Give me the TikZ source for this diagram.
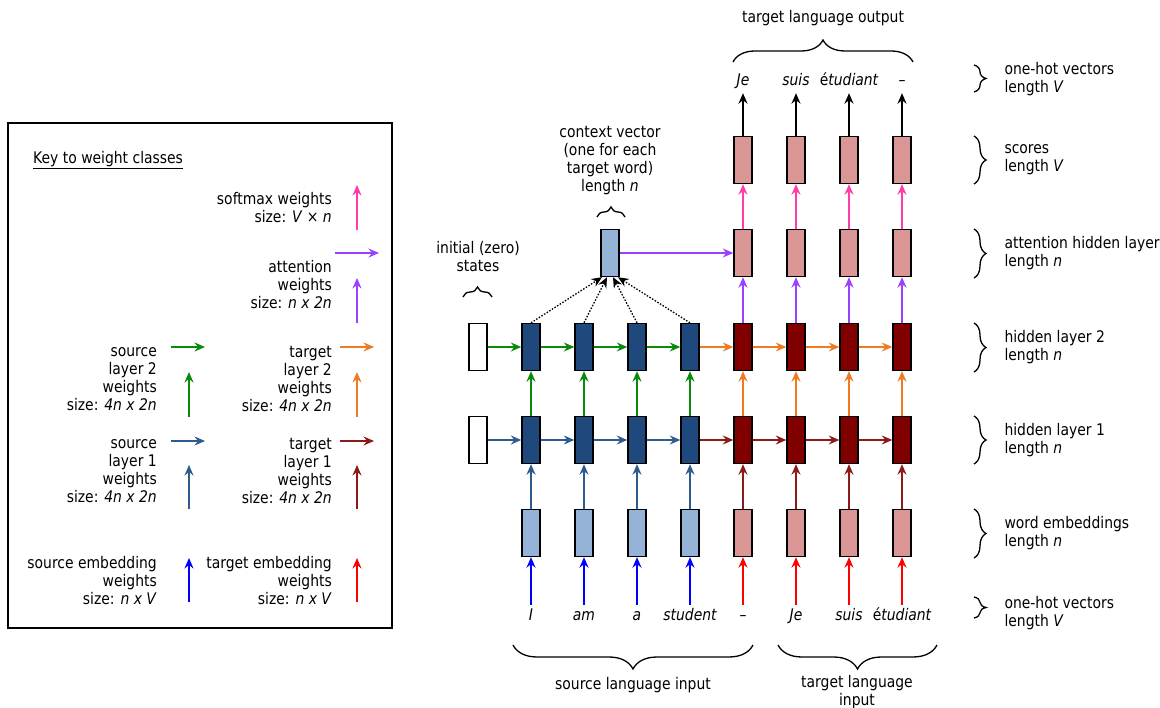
\documentclass[tikz,border=0pt]{standalone}
\usepackage{fontspec}
\setmainfont{DejaVu Sans}[FakeStretch=0.87]
\usetikzlibrary{arrows.meta,decorations.pathreplacing}
\definecolor{srcbox}{HTML}{1F497D}
\definecolor{srclight}{HTML}{95B3D7}
\definecolor{tgtbox}{HTML}{800000}
\definecolor{tgtlight}{HTML}{D99694}
\definecolor{wsrcA}{HTML}{2E5B8E}
\definecolor{wsrcB}{HTML}{0A8A0A}
\definecolor{wtgtA}{HTML}{8B1A1A}
\definecolor{wtgtB}{HTML}{EE7B22}
\definecolor{watt}{HTML}{9B40FF}
\definecolor{wsoft}{HTML}{FF3DAA}
\definecolor{wemb}{HTML}{0000FF}
\definecolor{wtemb}{HTML}{FF0000}

\begin{document}
\begin{tikzpicture}[x=1pt,y=-1pt]
		\tikzstyle{every node}=[font=\fontsize{16pt}{18pt}\selectfont]
		\tikzstyle{cell}=[draw, line width=1.4pt, minimum width=18pt, minimum height=47pt, inner sep=0pt]
		\tikzstyle{srcH}=[cell, fill=srcbox]
		\tikzstyle{srcE}=[cell, fill=srclight]
		\tikzstyle{tgtH}=[cell, fill=tgtbox]
		\tikzstyle{tgtE}=[cell, fill=tgtlight]
		\tikzstyle{zero}=[cell, fill=white]
		\tikzstyle{arr}=[line width=1.5pt, -{Stealth[length=10.5pt,width=9pt,inset=3.5pt]}]
		\tikzstyle{dots}=[arr, black, line width=1.3pt, dash pattern=on 1.5pt off 1.6pt]
		\tikzstyle{word}=[font=\fontsize{16pt}{18pt}\selectfont\itshape, text height=12pt, text depth=4pt, inner sep=3pt, anchor=base]
		\tikzstyle{lbl}=[inner sep=0pt]
		\tikzstyle{brc}=[decorate, line width=1.3pt]
		\useasboundingbox (0,0) rectangle (1160,708);

		% key to weight classes
		\draw [line width=1.5pt] (8,123) rectangle (392,628);
		\node [lbl, anchor=west] (key) at (33,160) {\underline{Key to weight classes}};
		\node [lbl, anchor=east, align=right] (kSoft) at (332,208) {softmax weights\\size: \textit{V} × \textit{n}};
		\node [lbl, anchor=east, align=right] (kAtt) at (332,285) {attention\\weights\\size: \textit{n x 2n}};
		\node [lbl, anchor=east, align=right] (kSrcB) at (157,379) {source\\layer 2\\weights\\size: \textit{4n x 2n}};
		\node [lbl, anchor=east, align=right] (kTgtB) at (332,379) {target\\layer 2\\weights\\size: \textit{4n x 2n}};
		\node [lbl, anchor=east, align=right] (kSrcA) at (157,471) {source\\layer 1\\weights\\size: \textit{4n x 2n}};
		\node [lbl, anchor=east, align=right] (kTgtA) at (332,471) {target\\layer 1\\weights\\size: \textit{4n x 2n}};
		\node [lbl, anchor=east, align=right] (kSrcE) at (157,581) {source embedding\\weights\\size: \textit{n x V}};
		\node [lbl, anchor=east, align=right] (kTgtE) at (332,581) {target embedding\\weights\\size: \textit{n x V}};
		\draw [arr, wsoft] (357,230) -- (357,185);
		\draw [arr, watt] (335,253) -- (379,253);
		\draw [arr, watt] (357,323) -- (357,278);
		\draw [arr, wsrcB] (171,347) -- (205,347);
		\draw [arr, wsrcB] (189,417) -- (189,372);
		\draw [arr, wtgtB] (340,347) -- (374,347);
		\draw [arr, wtgtB] (357,417) -- (357,372);
		\draw [arr, wsrcA] (171,441) -- (205,441);
		\draw [arr, wsrcA] (189,509) -- (189,465);
		\draw [arr, wtgtA] (340,441) -- (374,441);
		\draw [arr, wtgtA] (357,509) -- (357,465);
		\draw [arr, wemb] (189,602) -- (189,558);
		\draw [arr, wtemb] (357,602) -- (357,558);

		% cells
		\node [zero] (zB) at (478,347) {};
		\node [zero] (zA) at (478,440) {};
		\node [srcE] (emb1) at (531,533) {};
		\node [srcE] (emb2) at (584,533) {};
		\node [srcE] (emb3) at (637,533) {};
		\node [srcE] (emb4) at (690,533) {};
		\node [tgtE] (emb5) at (743,533) {};
		\node [tgtE] (emb6) at (796,533) {};
		\node [tgtE] (emb7) at (849,533) {};
		\node [tgtE] (emb8) at (902,533) {};
		\node [srcH] (hidA1) at (531,440) {};
		\node [srcH] (hidA2) at (584,440) {};
		\node [srcH] (hidA3) at (637,440) {};
		\node [srcH] (hidA4) at (690,440) {};
		\node [tgtH] (hidA5) at (743,440) {};
		\node [tgtH] (hidA6) at (796,440) {};
		\node [tgtH] (hidA7) at (849,440) {};
		\node [tgtH] (hidA8) at (902,440) {};
		\node [srcH] (hidB1) at (531,347) {};
		\node [srcH] (hidB2) at (584,347) {};
		\node [srcH] (hidB3) at (637,347) {};
		\node [srcH] (hidB4) at (690,347) {};
		\node [tgtH] (hidB5) at (743,347) {};
		\node [tgtH] (hidB6) at (796,347) {};
		\node [tgtH] (hidB7) at (849,347) {};
		\node [tgtH] (hidB8) at (902,347) {};
		\node [tgtE] (att5) at (743,253) {};
		\node [tgtE] (att6) at (796,253) {};
		\node [tgtE] (att7) at (849,253) {};
		\node [tgtE] (att8) at (902,253) {};
		\node [tgtE] (sco5) at (743,160) {};
		\node [tgtE] (sco6) at (796,160) {};
		\node [tgtE] (sco7) at (849,160) {};
		\node [tgtE] (sco8) at (902,160) {};
		\node [srcE] (ctx) at (610,253) {};

		% words
		\node [word] (in1) at (531,620) {I};
		\node [word] (in2) at (584,620) {am};
		\node [word] (in3) at (637,620) {a};
		\node [word] (in4) at (690,620) {student};
		\node [word] (in5) at (743,620) {--};
		\node [word] (in6) at (796,620) {Je};
		\node [word] (in7) at (849,620) {suis};
		\node [word] (in8) at (902,620) {{\upshape é}tudiant};
		\node [word] (out5) at (743,86) {Je};
		\node [word] (out6) at (796,86) {suis};
		\node [word] (out7) at (849,86) {{\upshape é}tudiant};
		\node [word] (out8) at (902,86) {--};

		% inputs
		\draw [arr, wemb] (in1) -- (emb1);
		\draw [arr, wemb] (in2) -- (emb2);
		\draw [arr, wemb] (in3) -- (emb3);
		\draw [arr, wemb] (in4) -- (emb4);
		\draw [arr, wtemb] (in5) -- (emb5);
		\draw [arr, wtemb] (in6) -- (emb6);
		\draw [arr, wtemb] (in7) -- (emb7);
		\draw [arr, wtemb] (in8) -- (emb8);
		% layer 1
		\draw [arr, wsrcA] (emb1) -- (hidA1);
		\draw [arr, wsrcA] (emb2) -- (hidA2);
		\draw [arr, wsrcA] (emb3) -- (hidA3);
		\draw [arr, wsrcA] (emb4) -- (hidA4);
		\draw [arr, wtgtA] (emb5) -- (hidA5);
		\draw [arr, wtgtA] (emb6) -- (hidA6);
		\draw [arr, wtgtA] (emb7) -- (hidA7);
		\draw [arr, wtgtA] (emb8) -- (hidA8);
		\draw [arr, wsrcA] (zA) -- (hidA1);
		\draw [arr, wsrcA] (hidA1) -- (hidA2);
		\draw [arr, wsrcA] (hidA2) -- (hidA3);
		\draw [arr, wsrcA] (hidA3) -- (hidA4);
		\draw [arr, wtgtA] (hidA4) -- (hidA5);
		\draw [arr, wtgtA] (hidA5) -- (hidA6);
		\draw [arr, wtgtA] (hidA6) -- (hidA7);
		\draw [arr, wtgtA] (hidA7) -- (hidA8);
		% layer 2
		\draw [arr, wsrcB] (hidA1) -- (hidB1);
		\draw [arr, wsrcB] (hidA2) -- (hidB2);
		\draw [arr, wsrcB] (hidA3) -- (hidB3);
		\draw [arr, wsrcB] (hidA4) -- (hidB4);
		\draw [arr, wtgtB] (hidA5) -- (hidB5);
		\draw [arr, wtgtB] (hidA6) -- (hidB6);
		\draw [arr, wtgtB] (hidA7) -- (hidB7);
		\draw [arr, wtgtB] (hidA8) -- (hidB8);
		\draw [arr, wsrcB] (zB) -- (hidB1);
		\draw [arr, wsrcB] (hidB1) -- (hidB2);
		\draw [arr, wsrcB] (hidB2) -- (hidB3);
		\draw [arr, wsrcB] (hidB3) -- (hidB4);
		\draw [arr, wtgtB] (hidB4) -- (hidB5);
		\draw [arr, wtgtB] (hidB5) -- (hidB6);
		\draw [arr, wtgtB] (hidB6) -- (hidB7);
		\draw [arr, wtgtB] (hidB7) -- (hidB8);
		% attention and output
		\draw [dots] (hidB1.north) -- ([xshift=-8pt]ctx.south);
		\draw [dots] (hidB2.north) -- ([xshift=-3pt]ctx.south);
		\draw [dots] (hidB3.north) -- ([xshift=3pt]ctx.south);
		\draw [dots] (hidB4.north) -- ([xshift=8pt]ctx.south);
		\draw [arr, watt] (ctx) -- (att5);
		\draw [arr, watt] (hidB5) -- (att5);
		\draw [arr, watt] (hidB6) -- (att6);
		\draw [arr, watt] (hidB7) -- (att7);
		\draw [arr, watt] (hidB8) -- (att8);
		\draw [arr, wsoft] (att5) -- (sco5);
		\draw [arr, wsoft] (att6) -- (sco6);
		\draw [arr, wsoft] (att7) -- (sco7);
		\draw [arr, wsoft] (att8) -- (sco8);
		\draw [arr, black] (sco5) -- (out5);
		\draw [arr, black] (sco6) -- (out6);
		\draw [arr, black] (sco7) -- (out7);
		\draw [arr, black] (sco8) -- (out8);

		% braces and their labels
		\draw [brc, decoration={brace, amplitude=10pt}] (463,297) -- (492,297);
		\node [align=center] (zeroLbl) at (478,257) {initial (zero)\\states};
		\draw [brc, decoration={brace, amplitude=10pt}] (597,217) -- (625,217);
		\node [align=center] (ctxLbl) at (610,161) {context vector\\(one for each\\target word)\\length \textit{n}};
		\draw [brc, decoration={brace, amplitude=22pt}] (733,62) -- (913,62);
		\node (outLbl) at (823,18) {target language output};
		\draw [brc, decoration={brace, amplitude=24pt}] (753,645) -- (513,645);
		\node (srcLbl) at (633,685) {source language input};
		\draw [brc, decoration={brace, amplitude=24pt}] (937,645) -- (778,645);
		\node [align=center] (tgtLbl) at (857,692) {target language\\input};
		\draw [brc, decoration={brace, amplitude=12pt}] (974,65) -- (974,92);
		\node [align=left, anchor=west] (r1) at (1001,79) {one-hot vectors\\length \textit{V}};
		\draw [brc, decoration={brace, amplitude=12pt}] (974,136) -- (974,184);
		\node [align=left, anchor=west] (r2) at (1001,160) {scores\\length \textit{V}};
		\draw [brc, decoration={brace, amplitude=12pt}] (974,229) -- (974,278);
		\node [align=left, anchor=west] (r3) at (1001,253) {attention hidden layer\\length \textit{n}};
		\draw [brc, decoration={brace, amplitude=12pt}] (974,323) -- (974,372);
		\node [align=left, anchor=west] (r4) at (1001,347) {hidden layer 2\\length \textit{n}};
		\draw [brc, decoration={brace, amplitude=12pt}] (974,416) -- (974,464);
		\node [align=left, anchor=west] (r5) at (1001,440) {hidden layer 1\\length \textit{n}};
		\draw [brc, decoration={brace, amplitude=12pt}] (974,509) -- (974,558);
		\node [align=left, anchor=west] (r6) at (1001,533) {word embeddings\\length \textit{n}};
		\draw [brc, decoration={brace, amplitude=12pt}] (974,597) -- (974,618);
		\node [align=left, anchor=west] (r7) at (1001,613) {one-hot vectors\\length \textit{V}};
	\end{tikzpicture}
\end{document}
